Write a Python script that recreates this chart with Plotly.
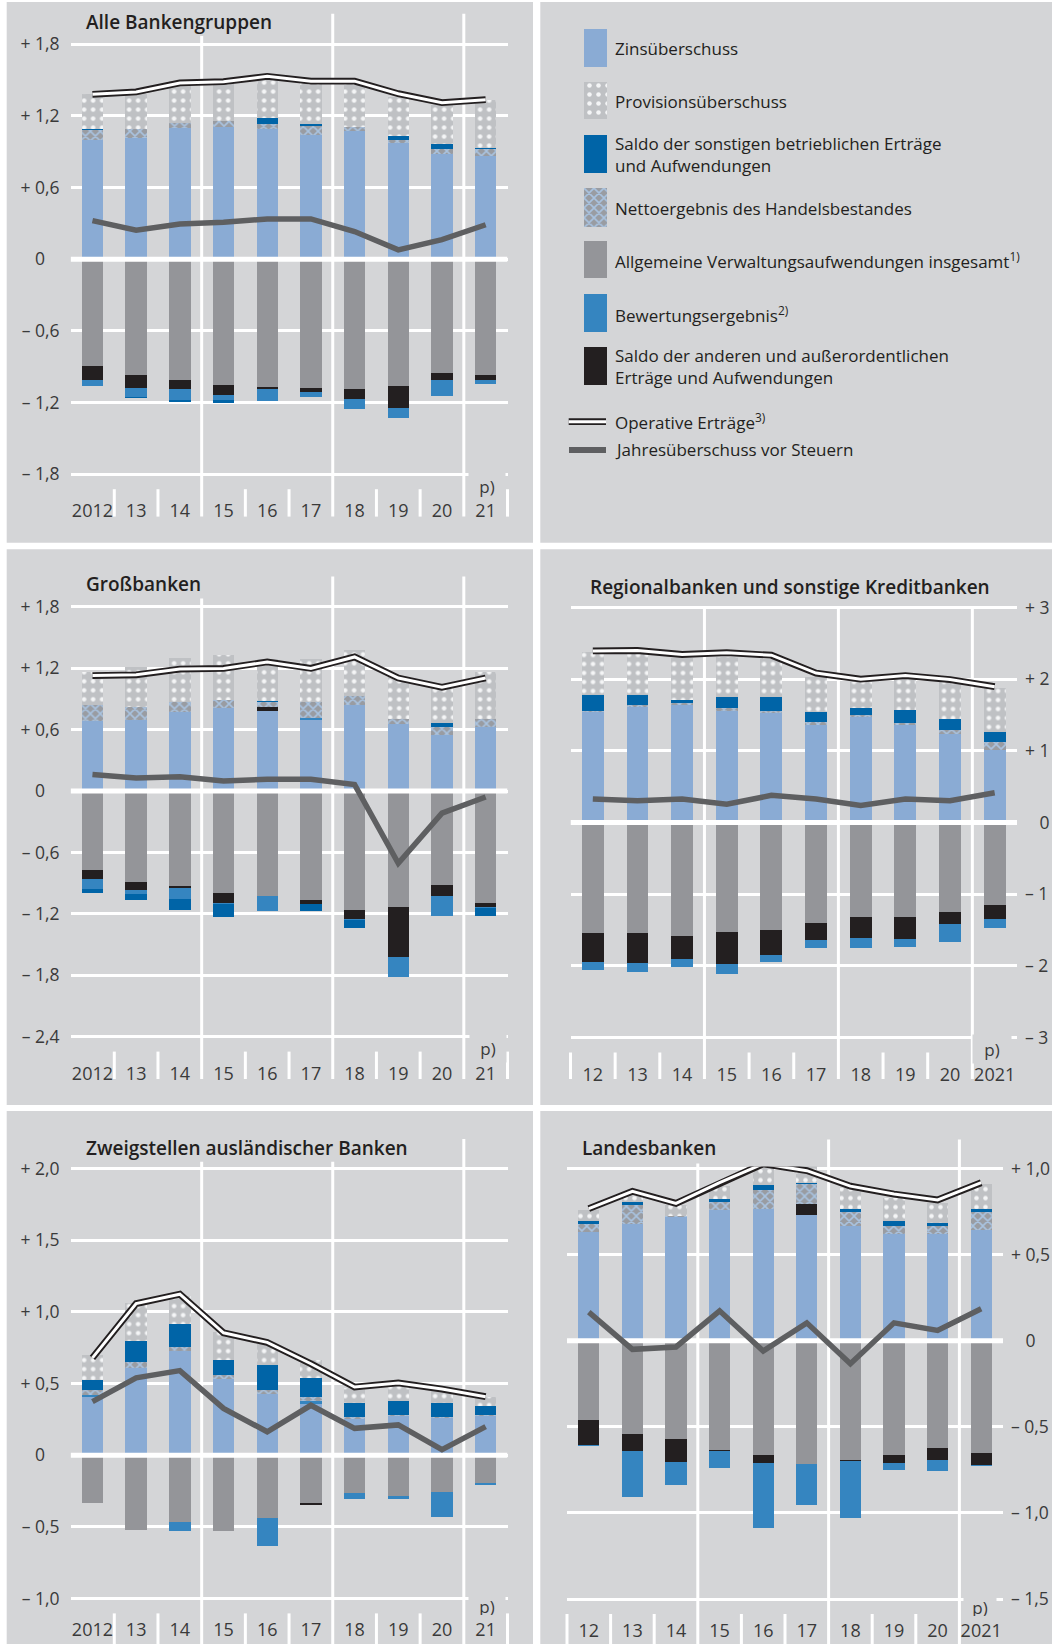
import plotly.graph_objects as go

W, H = 1054, 1644

# ---------------- data (% of average total assets) ----------------
cats_left = ["2012", "13", "14", "15", "16", "17", "18", "19", "20", "21"]
cats_right = ["12", "13", "14", "15", "16", "17", "18", "19", "20", "2021"]

# Alle Bankengruppen
alle_zins = [1.00, 1.015, 1.10, 1.11, 1.09, 1.04, 1.07, 0.97, 0.88, 0.865]
alle_prov = [0.295, 0.31, 0.35, 0.345, 0.355, 0.35, 0.375, 0.325, 0.325, 0.40]
alle_sonst = [0.008, -0.005, -0.02, -0.03, 0.05, 0.015, 0.0, 0.03, 0.04, 0.01]
alle_netto = [0.078, 0.072, 0.037, 0.046, 0.044, 0.078, 0.035, 0.029, 0.043, 0.055]
alle_verw = [-0.894, -0.969, -1.012, -1.053, -1.067, -1.076, -1.090, -1.061, -0.952, -0.969]
alle_bew = [-0.049, -0.072, -0.087, -0.038, -0.101, -0.044, -0.084, -0.081, -0.138, -0.037]
alle_andere = [-0.118, -0.113, -0.078, -0.086, -0.023, -0.034, -0.081, -0.188, -0.058, -0.041]
alle_oper = [1.38, 1.40, 1.475, 1.485, 1.53, 1.49, 1.49, 1.385, 1.31, 1.335]
alle_jahr = [0.323, 0.242, 0.294, 0.309, 0.337, 0.337, 0.231, 0.078, 0.164, 0.288]

# Großbanken
gross_zins = [0.681, 0.692, 0.772, 0.814, 0.786, 0.692, 0.842, 0.657, 0.552, 0.629]
gross_prov = [0.325, 0.385, 0.437, 0.433, 0.412, 0.426, 0.451, 0.419, 0.339, 0.461]
gross_sonst = [-0.035, -0.056, -0.105, -0.131, 0.014, -0.070, -0.084, 0.0, 0.045, -0.077]
gross_netto = [0.157, 0.132, 0.094, 0.080, 0.045, 0.157, 0.087, 0.042, 0.070, 0.073]
gross_verw = [-0.775, -0.891, -0.933, -0.995, -1.030, -1.065, -1.160, -1.132, -0.915, -1.097]
gross_bew = [-0.094, -0.041, -0.105, -0.008, -0.147, 0.017, -0.010, -0.192, -0.192, -0.010]
gross_andere = [-0.088, -0.077, -0.017, -0.102, 0.035, -0.042, -0.087, -0.489, -0.115, -0.035]
gross_oper = [1.128, 1.135, 1.191, 1.198, 1.261, 1.198, 1.310, 1.104, 1.013, 1.104]
gross_jahr = [0.161, 0.126, 0.140, 0.098, 0.115, 0.115, 0.063, -0.706, -0.217, -0.059]

# Regionalbanken und sonstige Kreditbanken
reg_zins = [1.536, 1.611, 1.636, 1.561, 1.526, 1.362, 1.476, 1.362, 1.237, 1.012]
reg_prov = [0.608, 0.623, 0.583, 0.558, 0.533, 0.499, 0.359, 0.449, 0.514, 0.613]
reg_sonst = [0.215, 0.140, 0.050, 0.155, 0.190, 0.139, 0.095, 0.189, 0.149, 0.135]
reg_netto = [0.025, 0.025, 0.025, 0.035, 0.035, 0.035, 0.030, 0.025, 0.060, 0.115]
reg_verw = [-1.546, -1.546, -1.581, -1.531, -1.496, -1.406, -1.322, -1.322, -1.242, -1.147]
reg_bew = [-0.110, -0.125, -0.115, -0.145, -0.100, -0.115, -0.150, -0.100, -0.255, -0.119]
reg_andere = [-0.399, -0.409, -0.324, -0.439, -0.349, -0.235, -0.284, -0.309, -0.174, -0.200]
reg_oper = [2.394, 2.400, 2.344, 2.369, 2.334, 2.085, 2.000, 2.050, 1.995, 1.895]
reg_jahr = [0.329, 0.304, 0.329, 0.254, 0.379, 0.329, 0.239, 0.329, 0.304, 0.414]

# Zweigstellen ausländischer Banken
zw_zins = [0.408, 0.607, 0.727, 0.528, 0.427, 0.355, 0.254, 0.271, 0.259, 0.271]
zw_prov = [0.173, 0.269, 0.197, 0.192, 0.149, 0.121, 0.103, 0.120, 0.079, 0.065]
zw_sonst = [0.067, 0.146, 0.156, 0.108, 0.170, 0.133, 0.103, 0.096, 0.101, 0.065]
zw_netto = [0.034, 0.041, 0.031, 0.031, 0.029, 0.030, 0.010, 0.012, 0.007, 0.007]
zw_verw = [-0.334, -0.526, -0.468, -0.533, -0.442, -0.334, -0.264, -0.286, -0.257, -0.197]
zw_bew = [0.014, 0.0, -0.065, 0.0, -0.192, 0.023, -0.041, -0.019, -0.175, -0.009]
zw_andere = [0.0, 0.0, 0.0, 0.0, 0.0, -0.012, 0.0, 0.0, 0.0, 0.0]
zw_oper = [0.679, 1.058, 1.123, 0.854, 0.787, 0.638, 0.475, 0.504, 0.461, 0.408]
zw_jahr = [0.374, 0.540, 0.590, 0.326, 0.163, 0.348, 0.187, 0.211, 0.038, 0.199]

# Landesbanken
lb_zins = [0.629, 0.679, 0.719, 0.758, 0.764, 0.729, 0.669, 0.619, 0.619, 0.645]
lb_prov = [0.063, 0.060, 0.063, 0.074, 0.110, 0.134, 0.124, 0.137, 0.113, 0.148]
lb_sonst = [0.016, 0.016, 0.0, 0.016, 0.024, 0.006, 0.015, 0.026, 0.016, 0.015]
lb_netto = [0.050, 0.109, 0.006, 0.050, 0.114, 0.116, 0.080, 0.050, 0.050, 0.104]
lb_verw = [-0.463, -0.543, -0.573, -0.635, -0.665, -0.713, -0.693, -0.665, -0.625, -0.653]
lb_bew = [-0.006, -0.265, -0.135, -0.096, -0.379, -0.239, -0.328, -0.040, -0.065, -0.006]
lb_andere = [-0.140, -0.100, -0.130, -0.008, -0.044, 0.063, -0.007, -0.044, -0.068, -0.070]
lb_oper = [0.768, 0.868, 0.798, 0.918, 1.028, 0.988, 0.898, 0.852, 0.818, 0.918]
lb_jahr = [0.166, -0.050, -0.036, 0.174, -0.060, 0.104, -0.134, 0.104, 0.060, 0.186]

ticks_alle = [1.8, 1.2, 0.6, 0, -0.6, -1.2, -1.8]
ticks_gross = [1.8, 1.2, 0.6, 0, -0.6, -1.2, -1.8, -2.4]
ticks_reg = [3, 2, 1, 0, -1, -2, -3]
ticks_zw = [2.0, 1.5, 1.0, 0.5, 0, -0.5, -1.0]
ticks_lb = [1.0, 0.5, 0, -0.5, -1.0, -1.5]

legend_labels = [
    "Zinsüberschuss",
    "Provisionsüberschuss",
    "Saldo der sonstigen betrieblichen Erträge<br>und Aufwendungen",
    "Nettoergebnis des Handelsbestandes",
    "Allgemeine Verwaltungsaufwendungen insgesamt<sup>1)</sup>",
    "Bewertungsergebnis<sup>2)</sup>",
    "Saldo der anderen und außerordentlichen<br>Erträge und Aufwendungen",
]
line_labels = ["Operative Erträge<sup>3)</sup>", "Jahresüberschuss vor Steuern"]

# ---------------- styles ----------------
BG = "#d4d5d7"
FONT = "Open Sans"
TXT = "#231f20"
TICKC = "#3a3a3a"
STY = {
    "zins": dict(color="#8aabd4"),
    "prov": dict(color="#bfc1c4", pattern=dict(shape=".", bgcolor="#bfc1c4", fgcolor="#f4f5f6",
                                              size=9, solidity=0.2, fillmode="replace")),
    "sonst": dict(color="#0064a7"),
    "netto": dict(color="#999ca2", pattern=dict(shape="x", bgcolor="#999ca2", fgcolor="#a9c3e0",
                                               size=7, solidity=0.4, fillmode="replace")),
    "verw": dict(color="#949599"),
    "bew": dict(color="#3585c0"),
    "andere": dict(color="#231f20"),
}
JAHR_C = "#5e5f61"
BARW = 0.49

fig = go.Figure()
shapes, annos = [], []
layout_axes = {}


def pos(v):
    return [a if a > 0 else 0 for a in v]


def neg(v):
    return [a if a < 0 else 0 for a in v]


def fmt(v, dec, side):
    hid = '<span style="color:rgba(0,0,0,0)">{}</span>'
    if v == 0:
        if side == "left":
            return "0" + (hid.format(",0") if dec else "")
        return hid.format("+\u00a0") + "0"
    s = f"{abs(v):.{dec}f}".replace(".", ",")
    return ("+ " if v > 0 else "\u2013 ") + s


def px2py(y):
    return 1 - y / H


panels = [
    dict(title="Alle Bankengruppen", cats=cats_left, side="left", xl=70.6, xr=507.5,
         yt=44.1, yb=474.2, ticks=ticks_alle, dec=1, bg=(6.7, 2, 533, 542.7), xso=22,
         txy=(85, 22.4), tops=(36, 13.8, 13.8), bot=516.6, pxy=(487, 485.7), pw=34, ph=26,
         d=(alle_zins, alle_prov, alle_sonst, alle_netto, alle_verw, alle_bew, alle_andere, alle_oper, alle_jahr)),
    dict(title="Großbanken", cats=cats_left, side="left", xl=70.6, xr=507.5,
         yt=606.8, yb=1036.6, ticks=ticks_gross, dec=1, bg=(6.7, 549.3, 533, 1105), xso=22,
         txy=(85, 584.3), tops=(598.6, 576.4, 576.4), bot=1079, pxy=(488, 1048), pw=34, ph=26,
         d=(gross_zins, gross_prov, gross_sonst, gross_netto, gross_verw, gross_bew, gross_andere, gross_oper, gross_jahr)),
    dict(title="Regionalbanken und sonstige Kreditbanken", cats=cats_right, side="right", xl=570.5, xr=1017,
         yt=607.5, yb=1037.5, ticks=ticks_reg, dec=0, bg=(540.3, 549.3, 1052, 1105), xso=22,
         txy=(589, 587), tops=(608.6, 608.6, 608.6), bot=1079, pxy=(992, 1049), pw=36, ph=26,
         d=(reg_zins, reg_prov, reg_sonst, reg_netto, reg_verw, reg_bew, reg_andere, reg_oper, reg_jahr)),
    dict(title="Zweigstellen ausländischer Banken", cats=cats_left, side="left", xl=70.6, xr=507.5,
         yt=1168.6, yb=1598.4, ticks=ticks_zw, dec=1, bg=(6.7, 1111, 533, 1644), xso=17,
         txy=(85, 1148), tops=(1161.7, 1161.7, 1139), bot=1644, pxy=(487, 1606), pw=34, ph=18,
         d=(zw_zins, zw_prov, zw_sonst, zw_netto, zw_verw, zw_bew, zw_andere, zw_oper, zw_jahr)),
    dict(title="Landesbanken", cats=cats_right, side="right", xl=567, xr=1003,
         yt=1168.6, yb=1599, ticks=ticks_lb, dec=1, bg=(540.3, 1111, 1052, 1644), xso=17,
         txy=(581, 1148), tops=(1163.5, 1139.4, 1139.4), bot=1644, pxy=(980, 1606.5), pw=30, ph=18,
         d=(lb_zins, lb_prov, lb_sonst, lb_netto, lb_verw, lb_bew, lb_andere, lb_oper, lb_jahr)),
]

# legend panel background
shapes.append(dict(type="rect", xref="paper", yref="paper", x0=540.3 / W, x1=1052 / W,
                   y0=px2py(542.7), y1=px2py(2), fillcolor=BG, line=dict(width=0), layer="below"))

for i, p in enumerate(panels, start=1):
    xa, ya = f"x{i}", f"y{i}"
    zins, prov, sonst, netto, verw, bew, andere, oper, jahr = p["d"]
    vmax, vmin = max(p["ticks"]), min(p["ticks"])
    ppu = (p["yb"] - p["yt"]) / (vmax - vmin)
    pad = 2.0 / ppu
    ydom = [px2py(p["yb"] + 2.0), px2py(p["yt"] - 2.0)]
    xdom = [p["xl"] / W, p["xr"] / W]
    X = list(range(10))
    step = (p["xr"] - p["xl"]) / 10.0

    # panel background
    x0, y0, x1, y1 = p["bg"]
    shapes.append(dict(type="rect", xref="paper", yref="paper", x0=x0 / W, x1=x1 / W,
                       y0=px2py(y1), y1=px2py(y0), fillcolor=BG, line=dict(width=0), layer="below"))
    # long separators (every three years) and short category ticks
    for b, top in zip([2.5, 5.5, 8.5], p["tops"]):
        xp = p["xl"] + (b + 0.5) * step
        shapes.append(dict(type="line", xref="paper", yref="paper", x0=xp / W, x1=xp / W,
                           y0=px2py(p["bot"]), y1=px2py(top), line=dict(color="white", width=3), layer="below"))
    short = [0.5, 1.5, 3.5, 4.5, 6.5, 7.5, 9.5] if p["side"] == "left" else [-0.5, 0.5, 1.5, 3.5, 4.5, 6.5, 7.5]
    for b in short:
        xp = p["xl"] + (b + 0.5) * step
        shapes.append(dict(type="line", xref="paper", yref="paper", x0=xp / W, x1=xp / W,
                           y0=px2py(p["bot"]), y1=px2py(p["yb"] + 15), line=dict(color="white", width=3), layer="below"))

    comps = [
        (zins, "zins"), (pos(bew), "bew"), (pos(andere), "andere"), (pos(netto), "netto"),
        (pos(sonst), "sonst"), (prov, "prov"),
        (verw, "verw"), (neg(andere), "andere"), (neg(bew), "bew"), (neg(sonst), "sonst"), (neg(netto), "netto"),
    ]
    for vals, key in comps:
        st = STY[key]
        mk = dict(color=st["color"], line=dict(width=0))
        if "pattern" in st:
            mk["pattern"] = st["pattern"]
        fig.add_trace(go.Bar(x=X, y=vals, width=BARW, marker=mk, xaxis=xa, yaxis=ya,
                             hoverinfo="skip", showlegend=False))
    # zero line over bars
    fig.add_trace(go.Scatter(x=[-0.5, 9.5], y=[0, 0], mode="lines", line=dict(color="white", width=5),
                             xaxis=xa, yaxis=ya, hoverinfo="skip", showlegend=False))
    fig.add_trace(go.Scatter(x=X, y=oper, mode="lines", line=dict(color="#231f20", width=6.8),
                             xaxis=xa, yaxis=ya, hoverinfo="skip", showlegend=False))
    fig.add_trace(go.Scatter(x=X, y=oper, mode="lines", line=dict(color="white", width=3),
                             xaxis=xa, yaxis=ya, hoverinfo="skip", showlegend=False))
    fig.add_trace(go.Scatter(x=X, y=jahr, mode="lines", line=dict(color=JAHR_C, width=5.5),
                             xaxis=xa, yaxis=ya, hoverinfo="skip", showlegend=False))

    layout_axes[f"xaxis{i}"] = dict(domain=xdom, range=[-0.5, 9.5], anchor=ya, tickmode="array",
                                    tickvals=X, ticktext=p["cats"], showgrid=False, zeroline=False,
                                    showline=False, ticks="", ticklabelstandoff=p["xso"], automargin=False,
                                    tickfont=dict(family=FONT, size=18, color=TICKC), fixedrange=True)
    layout_axes[f"yaxis{i}"] = dict(domain=ydom, range=[vmin - pad, vmax + pad], anchor=xa, side=p["side"],
                                    tickmode="array", tickvals=p["ticks"],
                                    ticktext=[fmt(v, p["dec"], p["side"]) for v in p["ticks"]],
                                    showgrid=True, gridcolor="white", gridwidth=3, zeroline=False,
                                    showline=False, ticks="",
                                    ticklabelstandoff=(10 if p["side"] == "left" else 7), automargin=False,
                                    tickfont=dict(family=FONT, size=17.5, color=TICKC), fixedrange=True)

    annos.append(dict(text=p["title"], xref="paper", yref="paper", x=p["txy"][0] / W, y=px2py(p["txy"][1]),
                      xanchor="left", yanchor="middle", showarrow=False, borderpad=0,
                      font=dict(family=FONT, size=19, color=TXT, weight=600)))
    annos.append(dict(text="p)", xref="paper", yref="paper", x=p["pxy"][0] / W, y=px2py(p["pxy"][1]),
                      xanchor="center", yanchor="middle", showarrow=False, bgcolor=BG, width=p["pw"],
                      height=p["ph"], borderpad=1, font=dict(family=FONT, size=17, color=TICKC)))

# ---------------- legend (custom, in the upper right panel) ----------------
sw_x0, sw_x1 = 583.7, 607.0
sw_rows = [(29.0, 66.7), (81.7, 119.3), (135.0, 172.7), (188.3, 226.7), (240.7, 278.3), (294.0, 331.7), (346.7, 385.0)]
txt_y = [49.0, 101.7, 154.5, 208.0, 261.0, 314.0, 366.5]
keys = ["zins", "prov", "sonst", "netto", "verw", "bew", "andere"]
for key, (t, b), ty, lab in zip(keys, sw_rows, txt_y, legend_labels):
    st = STY[key]
    mk = dict(color=st["color"], line=dict(width=0))
    if "pattern" in st:
        mk["pattern"] = st["pattern"]
    fig.add_trace(go.Bar(x=[(sw_x0 + sw_x1) / 2], y=[b - t], base=[t], width=sw_x1 - sw_x0, marker=mk,
                         xaxis="x6", yaxis="y6", hoverinfo="skip", showlegend=False))
    annos.append(dict(text=lab, xref="paper", yref="paper", x=613.7 / W, y=px2py(ty), xanchor="left",
                      yanchor="middle", align="left", showarrow=False, borderpad=0,
                      font=dict(family=FONT, size=17, color=TXT)))

layout_axes["xaxis6"] = dict(domain=[0, 1], range=[0, W], visible=False, fixedrange=True, anchor="y6",
                             automargin=False)
layout_axes["yaxis6"] = dict(domain=[0, 1], range=[H, 0], visible=False, fixedrange=True, anchor="x6",
                             automargin=False)

ly_op, ly_j = 421.7, 450.0
shapes.append(dict(type="line", xref="paper", yref="paper", x0=568.7 / W, x1=606 / W, y0=px2py(ly_op),
                   y1=px2py(ly_op), line=dict(color="#231f20", width=6.8)))
shapes.append(dict(type="line", xref="paper", yref="paper", x0=568.7 / W, x1=606 / W, y0=px2py(ly_op),
                   y1=px2py(ly_op), line=dict(color="white", width=3)))
shapes.append(dict(type="line", xref="paper", yref="paper", x0=569 / W, x1=606 / W, y0=px2py(ly_j),
                   y1=px2py(ly_j), line=dict(color=JAHR_C, width=6)))
for lab, ty in zip(line_labels, [ly_op, ly_j]):
    annos.append(dict(text=lab, xref="paper", yref="paper", x=613.7 / W, y=px2py(ty), xanchor="left",
                      yanchor="middle", showarrow=False, borderpad=0,
                      font=dict(family=FONT, size=17, color=TXT)))

fig.update_layout(width=W, height=H, margin=dict(l=0, r=0, t=0, b=0, pad=0, autoexpand=False),
                  paper_bgcolor="white", plot_bgcolor="rgba(0,0,0,0)", barmode="relative", bargap=0,
                  showlegend=False, shapes=shapes, annotations=annos, font=dict(family=FONT), **layout_axes)

# pin the figure to the page's top-left corner (remove default body margin / whitespace offset)
post = ("var d=document.querySelector('.plotly-graph-div');"
        "document.documentElement.style.margin='0';document.documentElement.style.padding='0';"
        "document.body.style.margin='0';document.body.style.padding='0';"
        "document.body.style.lineHeight='0';document.body.style.overflow='hidden';"
        "document.documentElement.style.overflow='hidden';"
        "if(d){d.style.position='absolute';d.style.left='0px';d.style.top='0px';}")
fig.write_html("out.html", post_script=post, config={"displayModeBar": False, "staticPlot": True})
